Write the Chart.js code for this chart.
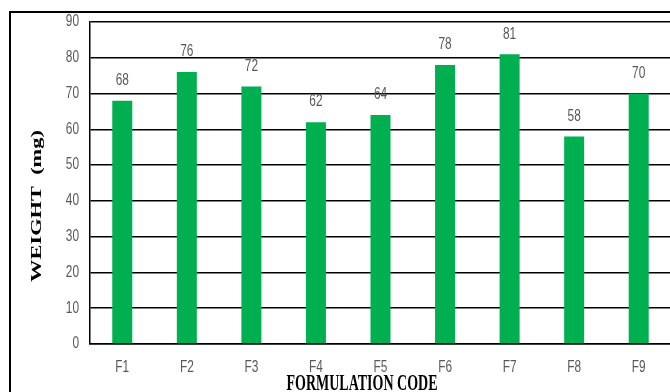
<!DOCTYPE html>
<html>
<head>
<meta charset="utf-8">
<script src="https://cdn.jsdelivr.net/npm/chart.js@4.4.1/dist/chart.umd.min.js"></script>
<style>
  html, body { margin: 0; padding: 0; background: #fff; overflow: hidden; }
  #wrap { position: relative; width: 670px; height: 392px; overflow: hidden; }
  #grafico { position: absolute; left: 0; top: 0; }
  #moldura {
    position: absolute; left: 9px; top: 11px; width: 900px; height: 900px;
    border-left: 2px solid #000; border-top: 2px solid #000; pointer-events: none;
  }
</style>
</head>
<body>
<div id="wrap">
  <canvas id="grafico" width="672" height="392"></canvas>
  <div id="moldura"></div>
</div>
<script>
const formulacoes = ["F1", "F2", "F3", "F4", "F5", "F6", "F7", "F8", "F9"];
const pesos = [68, 76, 72, 62, 64, 78, 81, 58, 70];
const escalaY = [0, 90, 10];

const fonteNumeros = "'Liberation Sans', Arial, sans-serif";
const fonteTitulos = "'Liberation Serif', 'Times New Roman', serif";
const cinza = "#595959";

// texto estreito e alto (parecido com Calibri esticada)
function textoEsticado(ctx, txt, x, y, sx, sy) {
  ctx.save();
  ctx.translate(x, y);
  ctx.scale(sx, sy);
  ctx.fillText(txt, 0, 0);
  ctx.restore();
}

// rótulos dos eixos desenhados à mão, nas posições das escalas
const rotulosEixos = {
  id: "rotulosEixos",
  afterDraw(chart) {
    const ctx = chart.ctx;
    const sx = chart.scales.x;
    const sy = chart.scales.y;
    ctx.save();
    ctx.fillStyle = cinza;
    ctx.font = "12.5px " + fonteNumeros;
    ctx.textBaseline = "middle";

    ctx.textAlign = "right";
    sy.ticks.forEach((t) => {
      textoEsticado(ctx, String(t.value), 79, sy.getPixelForValue(t.value), 0.95, 1.25);
    });

    ctx.textAlign = "center";
    formulacoes.forEach((f, i) => {
      textoEsticado(ctx, f, sx.getPixelForTick(i), 368, 0.95, 1.25);
    });
    ctx.restore();
  },
};

// valores em cima das barras
const rotulosBarras = {
  id: "rotulosBarras",
  afterDatasetsDraw(chart) {
    const ctx = chart.ctx;
    const meta = chart.getDatasetMeta(0);
    ctx.save();
    ctx.fillStyle = cinza;
    ctx.font = "12.5px " + fonteNumeros;
    ctx.textAlign = "center";
    ctx.textBaseline = "middle";
    meta.data.forEach((bar, i) => {
      textoEsticado(ctx, String(pesos[i]), bar.x, bar.y - 20, 0.95, 1.25);
    });
    ctx.restore();
  },
};

// títulos dos eixos, em serifa negrito e esticados na vertical
const titulosEixos = {
  id: "titulosEixos",
  afterDraw(chart) {
    const ctx = chart.ctx;
    ctx.save();
    ctx.fillStyle = "#000";
    ctx.font = "bold 14px " + fonteTitulos;
    ctx.textAlign = "center";

    ctx.save();
    ctx.translate(362, 390);
    ctx.scale(1, 1.6);
    ctx.textBaseline = "alphabetic";
    ctx.fillText("FORMULATION CODE", 0, 0);
    ctx.restore();

    ctx.save();
    ctx.translate(37, 206);
    ctx.rotate(-Math.PI / 2);
    ctx.scale(1.6, 1);
    ctx.textBaseline = "middle";
    ctx.fillText("WEIGHT  (mg)", 0, 0);
    ctx.restore();

    ctx.restore();
  },
};

document.addEventListener("DOMContentLoaded", () => {
  const ctxGrafico = document.getElementById("grafico").getContext("2d");

  new Chart(ctxGrafico, {
    type: "bar",
    data: {
      labels: formulacoes,
      datasets: [
        {
          data: pesos,
          backgroundColor: "#00B050",
          borderWidth: 0,
          categoryPercentage: 1,
          barPercentage: 0.31,
        },
      ],
    },
    options: {
      responsive: false,
      animation: false,
      layout: { padding: { left: 0, top: 22, right: 1, bottom: 0 } },
      plugins: {
        legend: { display: false },
        tooltip: { enabled: false },
      },
      scales: {
        x: {
          grid: { display: false, drawTicks: false },
          border: { display: true, color: "#000", width: 1.5 },
          ticks: { display: false },
          afterFit(scale) {
            scale.height = 48;
          },
        },
        y: {
          min: escalaY[0],
          max: escalaY[1],
          ticks: { stepSize: escalaY[2], display: false },
          grid: { color: "#000", lineWidth: 1.5, drawTicks: false },
          border: { display: true, color: "#000", width: 1.5 },
          afterFit(scale) {
            scale.width = 90;
          },
        },
      },
    },
    plugins: [rotulosBarras, rotulosEixos, titulosEixos],
  });
});
</script>
</body>
</html>
